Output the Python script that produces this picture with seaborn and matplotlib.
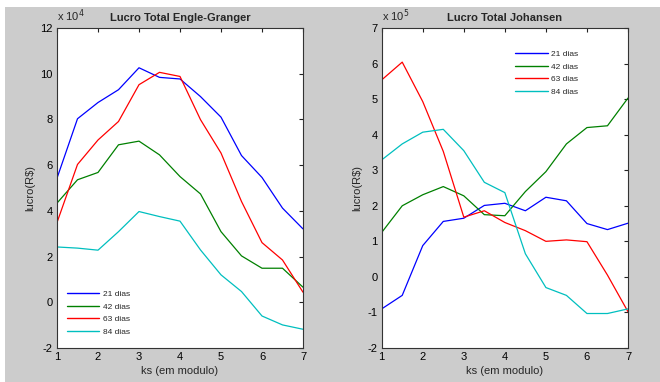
import matplotlib
matplotlib.use("Agg")
import matplotlib.pyplot as plt
import matplotlib.ticker as mticker
from matplotlib.patches import Rectangle
import numpy as np
import pandas as pd
import seaborn as sns

# ---- data ----
ks = [1, 1.5, 2, 2.5, 3, 3.5, 4, 4.5, 5, 5.5, 6, 6.5, 7]
series_names = ["21 dias", "42 dias", "63 dias", "84 dias"]

eg_21 = [54300, 80300, 87400, 93000, 102600, 98400, 97700, 90000, 81000, 64200, 54600, 41200, 32100]
eg_42 = [43400, 53600, 56800, 68900, 70500, 64500, 55000, 47400, 30900, 20300, 14900, 14900, 6600]
eg_63 = [34900, 60300, 71000, 79100, 95200, 100600, 98800, 79900, 65300, 44100, 26100, 18500, 4400]
eg_84 = [24200, 23700, 22800, 30900, 39700, 37500, 35500, 22900, 12000, 4700, -6000, -9900, -11800]

jo_21 = [-90000, -52000, 88000, 156000, 165000, 201000, 207000, 186000, 224000, 214000, 150000, 133000, 151000]
jo_42 = [125000, 200000, 231000, 254000, 228000, 175000, 172000, 240000, 296000, 374000, 420000, 425000, 503000]
jo_63 = [554000, 604000, 493000, 353000, 168000, 186000, 153000, 130000, 100000, 104000, 99000, 5000, -98000]
jo_84 = [329000, 374000, 407000, 415000, 355000, 266000, 237000, 65000, -30000, -52000, -103000, -103000, -90000]

titles = ["Lucro Total Engle-Granger", "Lucro Total Johansen"]
xlabel = "ks (em modulo)"
ylabel = "lucro(R$)"
xticks = [1, 2, 3, 4, 5, 6, 7]
eg_yticks = [-20000, 0, 20000, 40000, 60000, 80000, 100000, 120000]
jo_yticks = [-200000, -100000, 0, 100000, 200000, 300000, 400000, 500000, 600000, 700000]

palette = {"21 dias": "#0000ff", "42 dias": "#008000", "63 dias": "#ff0000", "84 dias": "#00bfbf"}


def long_df(vals):
    rows = []
    for name, v in zip(series_names, vals):
        for x, y in zip(ks, v):
            rows.append({"ks": x, "lucro": y, "serie": name})
    return pd.DataFrame(rows)


sns.set_style("white")
plt.rcParams["font.family"] = ["Liberation Sans", "DejaVu Sans"]
plt.rcParams["font.size"] = 8
plt.rcParams["axes.unicode_minus"] = False

W, H = 660, 382
fig = plt.figure(figsize=(W / 100, H / 100), dpi=100)
fig.patch.set_facecolor("#cccccc")
fig.patches.append(Rectangle((0, 0), 5 / W, 1, transform=fig.transFigure, facecolor="white", edgecolor="none", zorder=-1))
fig.patches.append(Rectangle((0, (H - 7) / H), 1, 7 / H, transform=fig.transFigure, facecolor="white", edgecolor="none", zorder=-1))

ax1 = fig.add_axes([57 / W, (H - 348) / H, 246 / W, 320 / H])
ax2 = fig.add_axes([381.7 / W, (H - 348) / H, 246.3 / W, 320 / H])

configs = [
    (ax1, long_df([eg_21, eg_42, eg_63, eg_84]), eg_yticks, 4, (66.7 / W, (H - 290.5) / H)),
    (ax2, long_df([jo_21, jo_42, jo_63, jo_84]), jo_yticks, 5, (515 / W, (H - 50.5) / H)),
]

for ax, df, yt, power, leg_anchor in configs:
    sns.lineplot(data=df, x="ks", y="lucro", hue="serie", palette=palette, ax=ax,
                 linewidth=0.9, legend=False, estimator=None)
    ax.set_facecolor("white")
    ax.set_xlim(1, 7)
    ax.set_ylim(yt[0], yt[-1])
    ax.set_xticks(xticks)
    ax.set_yticks(yt)
    ax.yaxis.set_major_formatter(mticker.FuncFormatter(lambda v, p, pw=power: f"{v / 10 ** pw:g}"))
    ax.text(0.0, 1.012, "x 10$^{%d}$" % power, transform=ax.transAxes, fontsize=8,
            ha="left", va="bottom")
    ax.tick_params(direction="in", length=3, width=0.8, top=True, right=True,
                   labelsize=8, colors="#222222", labelcolor="black", pad=3)
    for sp in ax.spines.values():
        sp.set_visible(True)
        sp.set_color("#333333")
        sp.set_linewidth(0.8)
    ax.set_xlabel(xlabel, fontsize=8, labelpad=3)
    ax.set_ylabel(ylabel, fontsize=8, labelpad=4)
    ax.set_title(titles[0] if ax is ax1 else titles[1], fontsize=8, fontweight="bold", pad=5)
    handles = [plt.Line2D([], [], color=palette[n], linewidth=1.0) for n in series_names]
    fig.legend(handles, series_names, loc="upper left", bbox_to_anchor=leg_anchor,
               bbox_transform=fig.transFigure, frameon=False, fontsize=6,
               handlelength=3.9, handletextpad=0.45, labelspacing=0.55,
               borderpad=0, borderaxespad=0)

fig.savefig("out.png", dpi=100, facecolor=fig.get_facecolor())
